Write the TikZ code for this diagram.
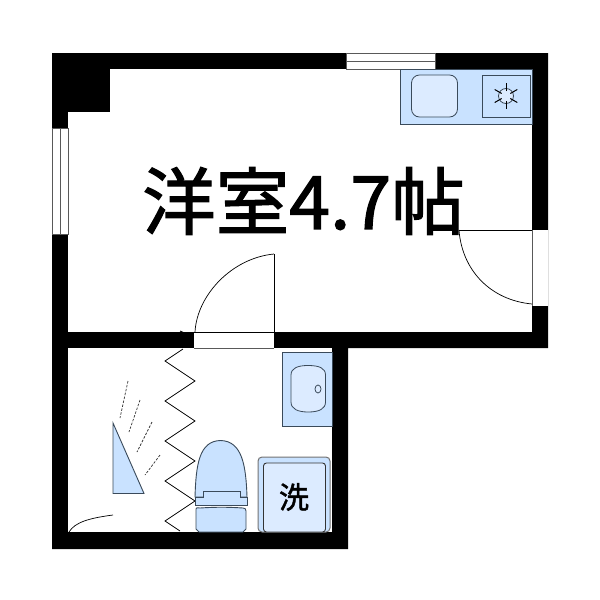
\documentclass[tikz,border=0pt]{standalone}
\usepackage{fontspec}
\newfontfamily\cjk[FakeBold=1.6]{Noto Sans CJK JP}
\definecolor{fixfill}{HTML}{C9E2FF}
\definecolor{fixlight}{HTML}{DCEBFF}
\definecolor{fixline}{HTML}{3A4A5A}
\tikzset{x=1pt,y=-1pt,
 wall/.style={fill=black,draw=none},
 fix/.style={draw=fixline,fill=fixfill,line width=0.9pt},
 fixin/.style={draw=fixline,fill=fixlight,line width=0.8pt},
 opening/.style={fill=white,draw=none},
 glassline/.style={draw=black!65,line width=1pt},
 swing/.style={draw=black,line width=0.7pt},
 zig/.style={draw=black,line width=0.8pt,line join=miter},
 dashline/.style={draw=black!80,line width=0.7pt,dash pattern=on 2.5pt off 1.5pt}}
\begin{document}
\begin{tikzpicture}
\useasboundingbox (0,0) rectangle (600,600);
% walls
\path[wall] (52,53) -- (548,53) -- (548,348) -- (348,348) -- (348,549) -- (52,549) -- cycle;
\fill[white] (110,69) rectangle (532,332);
\fill[white] (68,112) rectangle (110,332);
\fill[black] (52,112) rectangle (68,128);
\fill[white] (68,348) rectangle (332,532);
% top window
\path[opening] (346,53) rectangle (435,69);
\draw[glassline] (346,53) rectangle (435,69);
\draw[glassline] (346,61) -- (435,61);
% left window
\path[opening] (52,128) rectangle (68,234);
\draw[glassline] (52,128) rectangle (68,234);
\draw[glassline] (60,128) -- (60,234);
% right opening
\path[opening] (532.5,230) rectangle (548,306);
\draw[glassline] (532,230) -- (532,306);
% inner door opening
\path[opening] (194,332) rectangle (274,348);
\draw[glassline] (194,348) -- (274,348);
\draw[swing] (194,332.5) -- (274,332.5);
% doors
\draw[swing] (459,230) -- (532,230);
\draw[swing] (459,230) .. controls (462,270) and (490,300) .. (532,304);
\draw[swing] (274,332) -- (274,254);
\draw[swing] (195,332) .. controls (197,295) and (232,258) .. (274,254);
% kitchen
\path[fix] (400,69) rectangle (532,124);
\path[fixin,rounded corners=8pt] (411.5,75) rectangle (457.5,117);
\path[fix] (482,75) rectangle (530,117);
\coordinate (burner) at (506,96);
\draw[fixline,fill=fixlight,line width=0.8pt] (burner) circle (7.5);
\foreach \a in {30,90,150,210,270,330}
 \draw[black,line width=1pt] (burner) ++(\a:5) -- ++(\a:8);
% zigzag
\draw[zig] (180,331) -- (187,334);
\draw[zig] (183,349) -- (165,361) -- (195,381) -- (165,401) -- (195,421) -- (165,441) -- (195,461) -- (165,481) -- (195,501) -- (165,521) -- (180,531);
% bath triangle
\path[fix] (113,423) -- (113,493.5) -- (144,493.5) -- cycle;
\draw[dashline] (128,381) -- (120,418);
\draw[dashline] (140,400) -- (129,432);
\draw[dashline] (152,422) -- (137,452);
\draw[dashline] (160,455) -- (145,475);
\draw[swing] (69,532) .. controls (75,522) and (90,518) .. (113,515);
% sink
\path[fix] (282,352) rectangle (332,426);
\path[fixin] (291,375) .. controls (291,368) and (298,365.5) .. (308,365.5) .. controls (319,365.5) and (325.5,368) .. (325.5,375) -- (325.5,402) .. controls (325.5,409) and (319,412) .. (308,412) .. controls (298,412) and (291,409) .. (291,402) -- cycle;
\draw[fixline,line width=0.8pt] (318,389) ellipse (3 and 4);
% toilet
\path[fix] (195,497) .. controls (196,465) and (199,441) .. (220.5,440.5) .. controls (242,441) and (246,465) .. (247,497) -- cycle;
\path[fix] (196,509) .. controls (196,507) and (197,508) .. (200,508) .. controls (215,507) and (228,507) .. (243,508) .. controls (245,508) and (246,509) .. (246,511) -- (246,529) -- (243,532) -- (199,532) -- (196,529) -- cycle;
\path[fix] (195.5,497) -- (195.5,505) -- (247,505) -- (247,497) -- (240,497) -- (240,491) -- (203,491) -- (203,497) -- cycle;
% washer
\path[draw=black!55,fill=fixfill,line width=1pt,rounded corners=4pt] (258,532) -- (258,457) -- (330,457) -- (330,532) -- cycle;
\path[fixin,draw=black!80,line width=0.9pt,rounded corners=3pt] (263.5,532) -- (263.5,463) -- (325.5,463) -- (325.5,532) -- cycle;
\node[font=\cjk\fontsize{30}{32}\selectfont,inner sep=0pt] (washlabel) at (294,497) {洗};
% main label
\node[font=\cjk\fontsize{73.5}{80}\selectfont,inner sep=0pt] (roomlabel) at (303.5,201) {洋室4.7帖};
\end{tikzpicture}
\end{document}
